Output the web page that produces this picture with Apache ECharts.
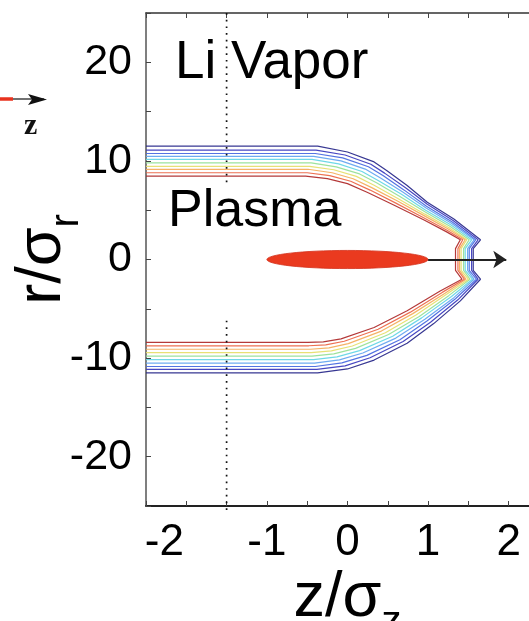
<!DOCTYPE html>
<html>
<head>
<meta charset="utf-8">
<script src="https://cdn.jsdelivr.net/npm/echarts@6/dist/echarts.min.js"></script>
<style>
  html, body { margin: 0; padding: 0; background: #fff; }
  #chart { width: 529px; height: 621px; }
</style>
</head>
<body>
<div id="chart"></div>
<script>
// Labelled ticks on each axis
const zTickLabels = [-2, -1, 0, 1, 2];
const rTickLabels = [-20, -10, 0, 10, 20];

// Ionization contours around the bunch, outermost (blue) to innermost (red).
// Each path runs along the upper boundary, through the notch on axis, back along the lower one: [z/σz, r/σr]
const contour0 = [[-2.5, 11.5], [-0.37, 11.5], [0, 10.9], [0.33, 9.9], [0.49, 9.0], [0.74, 7.5], [0.99, 5.8], [1.32, 4.1], [1.65, 2.0], [1.56, 1.1],
  [1.56, -1.1], [1.65, -2.0], [1.40, -4.2], [1.07, -6.5], [0.74, -8.5], [0.33, -10.2], [0, -11.1], [-0.37, -11.5], [-2.5, -11.5]];
const contour1 = [[-2.5, 11.1], [-0.39, 11.1], [-0.03, 10.6], [0.29, 9.66], [0.46, 8.76], [0.72, 7.28], [0.99, 5.6], [1.31, 3.96], [1.62, 2.0], [1.54, 1.1],
  [1.54, -1.1], [1.62, -2.0], [1.37, -4.09], [1.03, -6.36], [0.69, -8.32], [0.28, -9.96], [-0.03, -10.79], [-0.38, -11.15], [-2.5, -11.15]];
const contour2 = [[-2.5, 10.75], [-0.40, 10.75], [-0.06, 10.3], [0.26, 9.41], [0.44, 8.51], [0.70, 7.06], [0.98, 5.4], [1.30, 3.81], [1.59, 2.0], [1.51, 1.1],
  [1.51, -1.1], [1.60, -2.0], [1.34, -3.98], [0.99, -6.21], [0.65, -8.14], [0.24, -9.72], [-0.07, -10.49], [-0.40, -10.85], [-2.5, -10.85]];
const contour3 = [[-2.5, 10.45], [-0.42, 10.45], [-0.08, 10.0], [0.22, 9.17], [0.41, 8.27], [0.69, 6.83], [0.98, 5.2], [1.29, 3.67], [1.57, 2.0], [1.49, 1.1],
  [1.49, -1.1], [1.57, -2.0], [1.32, -3.87], [0.96, -6.07], [0.60, -7.97], [0.19, -9.48], [-0.10, -10.18], [-0.41, -10.5], [-2.5, -10.5]];
const contour4 = [[-2.5, 10.15], [-0.44, 10.15], [-0.11, 9.7], [0.18, 8.92], [0.38, 8.02], [0.67, 6.61], [0.97, 5.0], [1.28, 3.52], [1.54, 2.0], [1.46, 1.1],
  [1.46, -1.1], [1.55, -2.0], [1.29, -3.76], [0.92, -5.92], [0.56, -7.79], [0.15, -9.24], [-0.13, -9.88], [-0.42, -10.15], [-2.5, -10.15]];
const contour5 = [[-2.5, 9.8], [-0.45, 9.8], [-0.14, 9.4], [0.15, 8.68], [0.36, 7.78], [0.65, 6.39], [0.97, 4.8], [1.27, 3.38], [1.51, 2.0], [1.44, 1.1],
  [1.44, -1.1], [1.52, -2.0], [1.26, -3.64], [0.89, -5.78], [0.51, -7.61], [0.10, -9.01], [-0.17, -9.57], [-0.44, -9.8], [-2.5, -9.8]];
const contour6 = [[-2.5, 9.45], [-0.47, 9.45], [-0.17, 9.1], [0.11, 8.43], [0.33, 7.53], [0.63, 6.17], [0.96, 4.6], [1.26, 3.23], [1.48, 2.0], [1.41, 1.1],
  [1.41, -1.1], [1.50, -2.0], [1.23, -3.53], [0.85, -5.63], [0.47, -7.43], [0.06, -8.77], [-0.20, -9.27], [-0.45, -9.45], [-2.5, -9.45]];
const contour7 = [[-2.5, 9.15], [-0.49, 9.15], [-0.19, 8.8], [0.07, 8.19], [0.30, 7.29], [0.62, 5.94], [0.96, 4.4], [1.25, 3.09], [1.46, 2.0], [1.39, 1.1],
  [1.39, -1.1], [1.47, -2.0], [1.21, -3.42], [0.81, -5.49], [0.42, -7.26], [0.01, -8.53], [-0.23, -8.96], [-0.46, -9.1], [-2.5, -9.1]];
const contour8 = [[-2.5, 8.8], [-0.50, 8.8], [-0.22, 8.5], [0.04, 7.94], [0.28, 7.04], [0.60, 5.72], [0.95, 4.2], [1.24, 2.94], [1.43, 2.0], [1.37, 1.1],
  [1.37, -1.1], [1.45, -2.0], [1.18, -3.31], [0.78, -5.34], [0.38, -7.08], [-0.04, -8.29], [-0.27, -8.66], [-0.48, -8.75], [-2.5, -8.75]];
const contour9 = [[-2.5, 8.45], [-0.52, 8.45], [-0.25, 8.2], [0, 7.7], [0.25, 6.8], [0.58, 5.5], [0.95, 4.0], [1.23, 2.8], [1.40, 2.0], [1.34, 1.1],
  [1.34, -1.1], [1.42, -2.0], [1.15, -3.2], [0.74, -5.2], [0.33, -6.9], [-0.08, -8.05], [-0.30, -8.35], [-0.49, -8.4], [-2.5, -8.4]];

const contours = [contour0, contour1, contour2, contour3, contour4, contour5, contour6, contour7, contour8, contour9];
const contourColors = ['#2c2c8c', '#3d3dbf', '#4a6be0', '#66a6f0', '#66d6e6', '#98e098', '#e6df6e', '#f4ae5e', '#ec6848', '#b02e2e'];

// Drive bunch: [centre z, centre r, half length, half radius]
const bunch = [0, 0, 1.0, 0.92];
// Direction of travel
const travelArrow = [[1.0, 0], [1.97, 0]];
// Dotted marker at z = -1.5, broken around the "Plasma" label
const markerUpper = [[-1.5, 25], [-1.5, 7.6]];
const markerLower = [[-1.5, -6.2], [-1.5, -25.8]];

const FONT = 'Liberation Sans, Arial, Helvetica, sans-serif';

const chart = echarts.init(document.getElementById('chart'), null, { renderer: 'canvas' });

const series = contours.map((pts, i) => ({
  type: 'line',
  data: pts,
  symbol: 'none',
  smooth: false,
  silent: true,
  z: 2,
  lineStyle: { color: contourColors[i], width: 1.2, opacity: 0.95 }
}));

series.push({
  type: 'custom',
  silent: true,
  z: 4,
  data: [bunch],
  renderItem: function (params, api) {
    const c = api.coord([api.value(0), api.value(1)]);
    const s = api.size([api.value(2), api.value(3)]);
    return {
      type: 'ellipse',
      shape: { cx: c[0], cy: c[1], rx: s[0], ry: s[1] },
      style: { fill: '#ea3a1f', stroke: '#d3301a', lineWidth: 0.8 }
    };
  }
});

series.push({
  type: 'lines',
  coordinateSystem: 'cartesian2d',
  silent: true,
  z: 5,
  symbol: ['none', 'arrow'],
  symbolSize: 13,
  lineStyle: { color: '#222', width: 2, opacity: 1 },
  data: [{ coords: travelArrow }]
});

[markerUpper, markerLower].forEach(seg => series.push({
  type: 'line',
  data: seg,
  symbol: 'none',
  silent: true,
  clip: false,
  z: 3,
  lineStyle: { color: '#111', width: 1.7, type: [1.7, 5] }
}));

const axisCommon = {
  type: 'value',
  splitLine: { show: false },
  axisLine: { show: true, onZero: false, lineStyle: { color: '#333', width: 1.5 } },
  axisTick: { show: true, inside: true, length: 5, lineStyle: { color: '#444', width: 1 } }
};

chart.setOption({
  animation: false,
  backgroundColor: '#fff',
  grid: { left: 146, top: 13, right: -20, bottom: 115, outerBoundsMode: 'none' },
  xAxis: [
    Object.assign({}, axisCommon, {
      min: -2.5, max: 2.5, interval: 0.5, position: 'bottom',
      axisLine: { show: true, onZero: false, lineStyle: { color: '#222', width: 1.8 } },
      axisLabel: {
        margin: 15, color: '#000', fontFamily: FONT, fontSize: 44,
        showMinLabel: true, showMaxLabel: true,
        formatter: v => {
          if (!zTickLabels.includes(v)) return '';
          return v === -2 ? '{s|' + v + '}' : String(v);
        },
        rich: { s: { fontFamily: FONT, fontSize: 44, color: '#000', padding: [0, 44, 0, 0] } }
      },
      name: '{a|z/σ}{b|z}', nameLocation: 'middle', nameGap: 49, nameMoveOverlap: false,
      nameTextStyle: {
        rich: {
          a: { fontFamily: FONT, fontSize: 63, lineHeight: 88, color: '#000' },
          b: { fontFamily: FONT, fontSize: 40, lineHeight: 40, verticalAlign: 'bottom', color: '#000' }
        }
      }
    }),
    Object.assign({}, axisCommon, {
      min: -2.5, max: 2.5, interval: 0.5, position: 'top',
      axisLabel: { show: false }
    })
  ],
  yAxis: [
    Object.assign({}, axisCommon, {
      min: -25, max: 25, interval: 5, position: 'left',
      axisLine: { show: true, onZero: false, lineStyle: { color: '#555', width: 1.5 } },
      axisLabel: {
        margin: 14, color: '#000', fontFamily: FONT, fontSize: 43,
        formatter: v => rTickLabels.includes(v) ? String(v) : ''
      },
      name: '{a|r/σ}{b|r}', nameLocation: 'middle', nameRotate: 90, nameGap: 59, nameMoveOverlap: false,
      nameTextStyle: {
        rich: {
          a: { fontFamily: FONT, fontSize: 63, lineHeight: 88, color: '#000' },
          b: { fontFamily: FONT, fontSize: 40, lineHeight: 40, verticalAlign: 'bottom', color: '#000' }
        }
      }
    })
  ],
  graphic: [
    { type: 'text', left: 175, top: 37, silent: true,
      style: { text: 'Li Vapor', fontFamily: FONT, fontSize: 53, fill: '#000' } },
    { type: 'text', left: 168, top: 186, silent: true,
      style: { text: 'Plasma', fontFamily: FONT, fontSize: 52, fill: '#000' } },
    // small beam-direction key, partly outside the frame
    { type: 'line', silent: true, shape: { x1: 0, y1: 99, x2: 13, y2: 99 },
      style: { stroke: '#e8321e', lineWidth: 3.5 } },
    { type: 'line', silent: true, shape: { x1: 13, y1: 99, x2: 44, y2: 99 },
      style: { stroke: '#111', lineWidth: 1.2 } },
    { type: 'polygon', silent: true, shape: { points: [[28, 94], [47, 99.5], [28, 105], [32, 99.5]] },
      style: { fill: '#111' } },
    { type: 'text', left: 24, top: 111, silent: true,
      style: { text: 'z', fontFamily: 'Liberation Serif, DejaVu Serif, serif', fontWeight: 'bold', fontSize: 30, fill: '#111' } }
  ],
  series: series
});
</script>
</body>
</html>
